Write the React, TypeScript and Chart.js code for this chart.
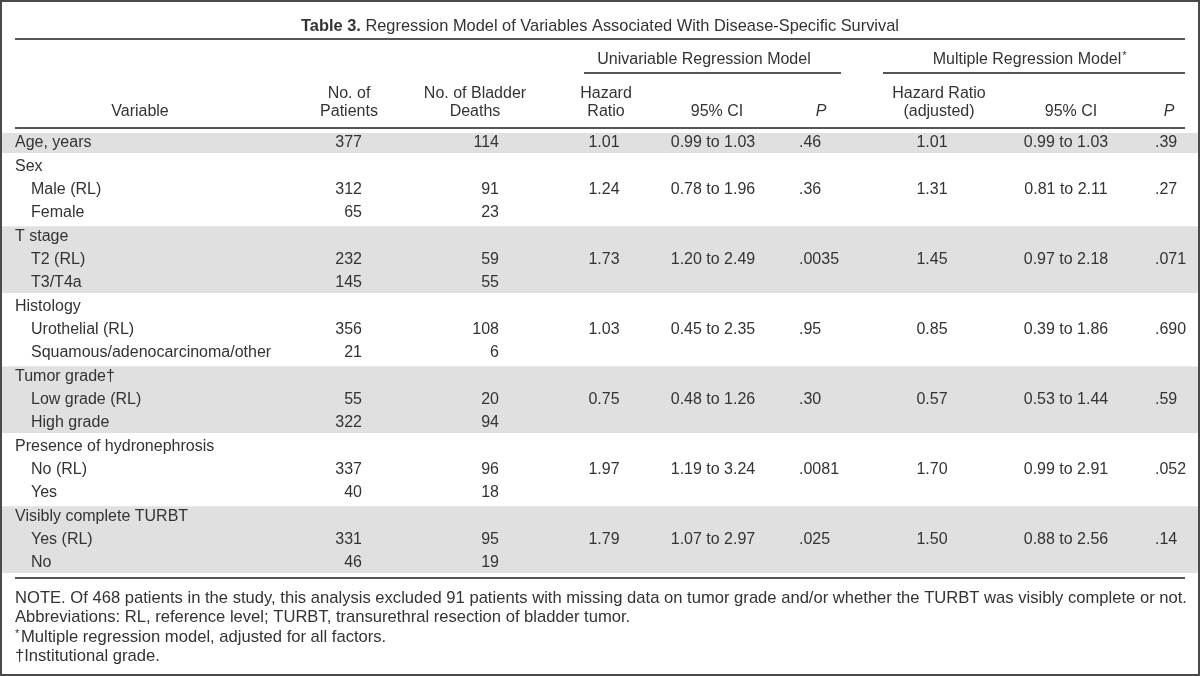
import React, { useEffect, useRef } from 'react';
import { Chart, registerables } from 'chart.js';

Chart.register(...registerables);

// ---------- data ----------
const variables = [
  'Age, years', 'Sex', 'Male (RL)', 'Female', 'T stage', 'T2 (RL)', 'T3/T4a',
  'Histology', 'Urothelial (RL)', 'Squamous/adenocarcinoma/other', 'Tumor grade\u2020',
  'Low grade (RL)', 'High grade', 'Presence of hydronephrosis', 'No (RL)', 'Yes',
  'Visibly complete TURBT', 'Yes (RL)', 'No',
];
const variableLevels = [0, 0, 1, 1, 0, 1, 1, 0, 1, 1, 0, 1, 1, 0, 1, 1, 0, 1, 1];
const patients = [377, null, 312, 65, null, 232, 145, null, 356, 21, null, 55, 322, null, 337, 40, null, 331, 46];
const deaths = [114, null, 91, 23, null, 59, 55, null, 108, 6, null, 20, 94, null, 96, 18, null, 95, 19];
const hrUni = ['1.01', '', '1.24', '', '', '1.73', '', '', '1.03', '', '', '0.75', '', '', '1.97', '', '', '1.79', ''];
const ciUni = ['0.99 to 1.03', '', '0.78 to 1.96', '', '', '1.20 to 2.49', '', '', '0.45 to 2.35', '', '', '0.48 to 1.26', '', '', '1.19 to 3.24', '', '', '1.07 to 2.97', ''];
const pUni = ['.46', '', '.36', '', '', '.0035', '', '', '.95', '', '', '.30', '', '', '.0081', '', '', '.025', ''];
const hrMulti = ['1.01', '', '1.31', '', '', '1.45', '', '', '0.85', '', '', '0.57', '', '', '1.70', '', '', '1.50', ''];
const ciMulti = ['0.99 to 1.03', '', '0.81 to 2.11', '', '', '0.97 to 2.18', '', '', '0.39 to 1.86', '', '', '0.53 to 1.44', '', '', '0.99 to 2.91', '', '', '0.88 to 2.56', ''];
const pMulti = ['.39', '', '.27', '', '', '.071', '', '', '.690', '', '', '.59', '', '', '.052', '', '', '.14', ''];
const shadedGroups = [[0, 0], [4, 6], [10, 12], [16, 18]];

const titleBold = 'Table 3.';
const titleRest = ' Regression Model of Variables Associated With Disease-Specific Survival';
const groupHeaders = ['Univariable Regression Model', 'Multiple Regression Model'];
const noteLines = [
  'NOTE. Of 468 patients in the study, this analysis excluded 91 patients with missing data on tumor grade and/or whether the TURBT was visibly complete or not.',
  'Abbreviations: RL, reference level; TURBT, transurethral resection of bladder tumor.',
  '*Multiple regression model, adjusted for all factors.',
  '\u2020Institutional grade.',
];

// ---------- style / layout ----------
const FAMILY = '"Liberation Sans", Arial, Helvetica, sans-serif';
const SIZE = 16;
const TITLE_SIZE = 16.4;
const NOTE_SIZE = 16.6;
const TEXT = '#333333';
const RULE = '#555555';
const BAND = '#e0e0e0';
const BAND_EXT = 0.43;

const cols = [
  { values: patients, x: 362, align: 'right' },
  { values: deaths, x: 499, align: 'right' },
  { values: hrUni, x: 604, align: 'center' },
  { values: ciUni, x: 713, align: 'center' },
  { values: pUni, x: 799, align: 'left' },
  { values: hrMulti, x: 932, align: 'center' },
  { values: ciMulti, x: 1066, align: 'center' },
  { values: pMulti, x: 1155, align: 'left' },
];

const font = (style = '', size = SIZE) => `${style} ${size}px ${FAMILY}`.trim();

function txt(ctx, s, x, y, align, f = font()) {
  ctx.font = f;
  ctx.textAlign = align;
  ctx.textBaseline = 'middle';
  ctx.fillStyle = TEXT;
  ctx.fillText(s, x, y);
}

function hline(ctx, x1, x2, y, w = 2) {
  ctx.strokeStyle = RULE;
  ctx.lineWidth = w;
  ctx.beginPath();
  ctx.moveTo(x1, y);
  ctx.lineTo(x2, y);
  ctx.stroke();
}

const tablePlugin = {
  id: 'tablePlugin',
  beforeDraw(chart) {
    const { ctx } = chart;
    const ys = chart.scales.y;
    ctx.save();
    ctx.fillStyle = '#ffffff';
    ctx.fillRect(0, 0, chart.width, chart.height);
    const pitch = ys.getPixelForValue(1) - ys.getPixelForValue(0);
    ctx.fillStyle = BAND;
    for (const [a, b] of shadedGroups) {
      const top = ys.getPixelForValue(a) - BAND_EXT * pitch;
      const bot = ys.getPixelForValue(b) + BAND_EXT * pitch;
      ctx.fillRect(2, top, chart.width - 4, bot - top);
    }
    ctx.restore();
  },
  afterDraw(chart) {
    const { ctx } = chart;
    const ys = chart.scales.y;
    ctx.save();
    // frame
    ctx.strokeStyle = '#4a4a4a';
    ctx.lineWidth = 2;
    ctx.strokeRect(1, 1, chart.width - 2, chart.height - 2);

    // title
    const fb = font('bold', TITLE_SIZE);
    const fr = font('', TITLE_SIZE);
    ctx.font = fb;
    const wb = ctx.measureText(titleBold).width;
    ctx.font = fr;
    const wr = ctx.measureText(titleRest).width;
    const tx = 600 - (wb + wr) / 2;
    txt(ctx, titleBold, tx, 26, 'left', fb);
    txt(ctx, titleRest, tx + wb, 26, 'left', fr);

    // rules
    hline(ctx, 15, 1185, 39);
    hline(ctx, 584, 841, 73);
    hline(ctx, 883, 1185, 73);
    hline(ctx, 15, 1185, 128);
    hline(ctx, 15, 1185, 578);

    // group headers
    txt(ctx, groupHeaders[0], 704, 60, 'center');
    ctx.font = font();
    const wm = ctx.measureText(groupHeaders[1]).width;
    txt(ctx, groupHeaders[1], 1027, 60, 'center');
    txt(ctx, '*', 1027 + wm / 2 + 1, 56, 'left', font('', 11));

    // column headers
    txt(ctx, 'Variable', 140, 112, 'center');
    txt(ctx, 'No. of', 349, 94, 'center');
    txt(ctx, 'Patients', 349, 112, 'center');
    txt(ctx, 'No. of Bladder', 475, 94, 'center');
    txt(ctx, 'Deaths', 475, 112, 'center');
    txt(ctx, 'Hazard', 606, 94, 'center');
    txt(ctx, 'Ratio', 606, 112, 'center');
    txt(ctx, '95% CI', 717, 112, 'center');
    txt(ctx, 'P', 821, 112, 'center', font('italic'));
    txt(ctx, 'Hazard Ratio', 939, 94, 'center');
    txt(ctx, '(adjusted)', 939, 112, 'center');
    txt(ctx, '95% CI', 1071, 112, 'center');
    txt(ctx, 'P', 1169, 112, 'center', font('italic'));

    // cells
    for (const c of cols) {
      c.values.forEach((v, i) => {
        if (v === null || v === '') return;
        txt(ctx, String(v), c.x, ys.getPixelForValue(i), c.align);
      });
    }

    // notes
    const fn = font('', NOTE_SIZE);
    const noteY = [598, 617.5, 637, 656.5];
    noteLines.forEach((line, i) => {
      if (line.startsWith('*')) {
        txt(ctx, '*', 15, noteY[i] - 3, 'left', font('', 11));
        txt(ctx, line.slice(1), 21, noteY[i], 'left', fn);
      } else {
        txt(ctx, line, 15, noteY[i], 'left', fn);
      }
    });
    ctx.restore();
  },
};

export default function App() {
  const ref = useRef<HTMLCanvasElement>(null);
  useEffect(() => {
    const chart = new Chart(ref.current as HTMLCanvasElement, {
      type: 'bar',
      data: { labels: variables, datasets: [] },
      options: {
        indexAxis: 'y',
        responsive: false,
        animation: false,
        devicePixelRatio: 1,
        layout: { padding: { top: 131.33, bottom: 101.33, left: 7, right: 15 } },
        plugins: { legend: { display: false }, tooltip: { enabled: false }, title: { display: false } },
        scales: {
          x: { type: 'linear', display: false, min: 0, max: 1 },
          y: {
            type: 'category',
            offset: true,
            grid: { display: false },
            border: { display: false },
            ticks: {
              mirror: true,
              padding: 0,
              crossAlign: 'near',
              autoSkip: false,
              color: TEXT,
              font: { family: FAMILY, size: SIZE },
              callback: (_v, i) => (variableLevels[i] ? '\u2002\u2002' : '') + variables[i],
            },
          },
        },
      },
      plugins: [tablePlugin],
    });
    return () => chart.destroy();
  }, []);
  return (
    <div style={{ position: 'fixed', left: 0, top: 0, width: 1200, height: 676, background: '#fff' }}>
      <canvas ref={ref} width={1200} height={676} style={{ display: 'block', width: 1200, height: 676 }} />
    </div>
  );
}
